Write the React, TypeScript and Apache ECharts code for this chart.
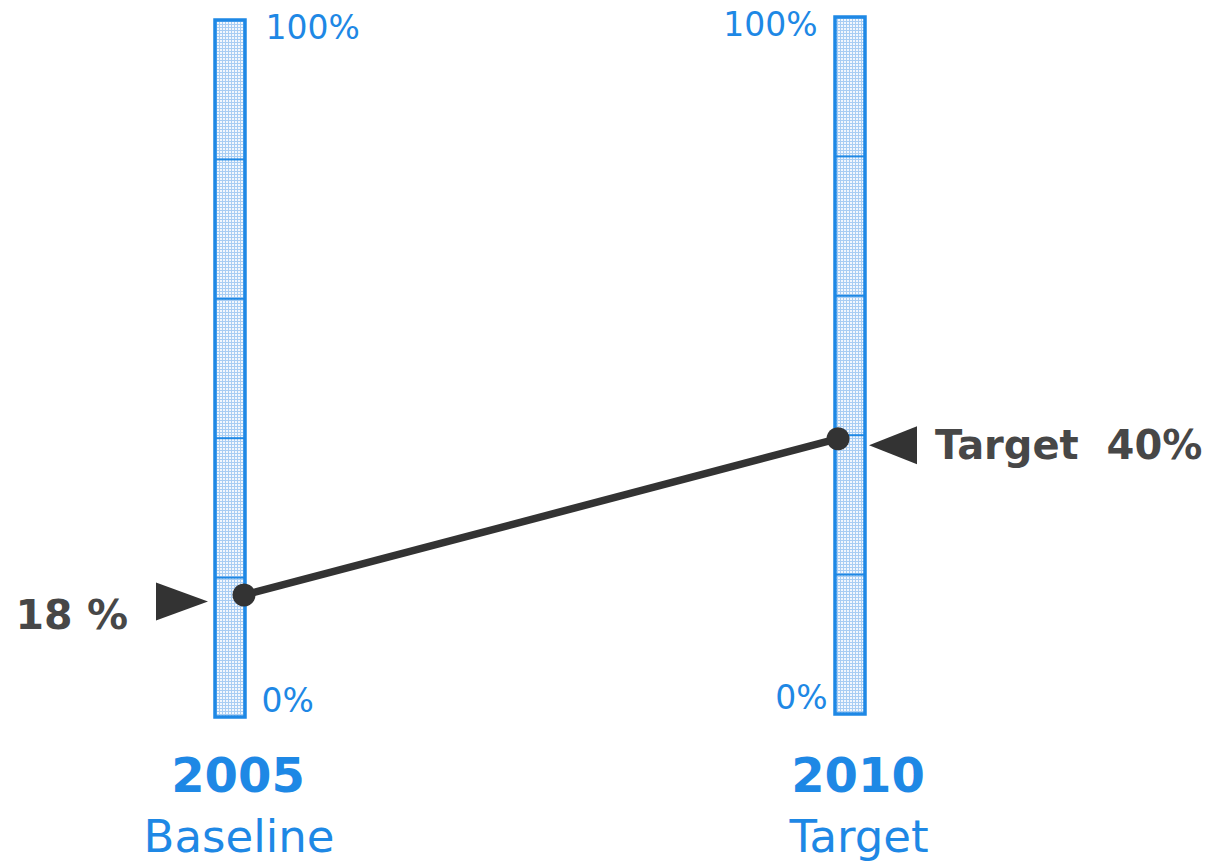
import React, { useEffect, useRef } from "react";
import * as echarts from "echarts";

// ---- data ----
const years = ["2005", "2010"];
const subtitles = ["Baseline", "Target"];
const values = [18, 40];
const valueLabels = ["18 %", "Target  40%"];
const scaleTicks = [20, 40, 60, 80];
const scaleMin = 0;
const scaleMax = 100;
const scaleMinLabel = "0%";
const scaleMaxLabel = "100%";

// ---- style / layout ----
const BLUE = "#1e88e5";
const DARK = "#333333";
const TEXT_DARK = "#474747";
const FONT = '"DejaVu Sans", sans-serif';
const L = {
  barShift: [1.5, -1.5],
  side: [-1, 1], // -1: marker on the left of the bar, 1: on the right
  topGap: [19, 16],
  bottomGap: [15, 6],
  barHalf: 15,
  tipGap: [22, 19],
  arrowLen: [52, 48],
};

function makePattern() {
  const c = document.createElement("canvas");
  c.width = 3;
  c.height = 3;
  const ctx = c.getContext("2d")!;
  ctx.fillStyle = "#f2f7fd";
  ctx.fillRect(0, 0, 3, 3);
  ctx.fillStyle = "#a8cdf3";
  ctx.fillRect(0, 0, 3, 1);
  ctx.fillRect(0, 0, 1, 3);
  return { image: c, repeat: "repeat" };
}

export default function App() {
  const ref = useRef<HTMLDivElement>(null);
  useEffect(() => {
    if (!ref.current) return;
    const chart = echarts.init(ref.current, null, { renderer: "svg" });
    const pattern = makePattern();

    const option: any = {
      animation: false,
      grid: { left: 230, right: 361, top: 18.5, bottom: 151.5 },
      xAxis: { type: "value", min: 0, max: 1, show: false },
      yAxis: { type: "value", min: scaleMin, max: scaleMax, show: false },
      series: [
        {
          type: "custom",
          z: 2,
          data: values.map((v, i) => [i, v]),
          renderItem: (params: any, api: any) => {
            const i = params.dataIndex;
            const x = api.value(0);
            const v = api.value(1);
            const sh = L.barShift[i];
            const side = L.side[i];
            const topP = api.coord([x, scaleMax]);
            const botP = api.coord([x, scaleMin]);
            const valP = api.coord([x, v]);
            const cx = topP[0];
            const top = topP[1] + sh;
            const bot = botP[1] + sh;
            const vy = valP[1] + sh;
            const half = L.barHalf;
            const children: any[] = [];
            children.push({
              type: "rect",
              shape: { x: cx - half, y: top, width: half * 2, height: bot - top },
              style: { fill: pattern, stroke: BLUE, lineWidth: 3.5 },
            });
            scaleTicks.forEach((t) => {
              const ty = api.coord([x, t])[1] + sh;
              children.push({
                type: "line",
                shape: { x1: cx - half, y1: ty, x2: cx + half, y2: ty },
                style: { stroke: BLUE, lineWidth: 2 },
              });
            });
            // scale labels
            const labSide = -side; // labels opposite to marker
            const edge = cx + labSide * (half + 1.5);
            children.push({
              type: "text",
              style: {
                text: scaleMaxLabel,
                x: edge + labSide * L.topGap[i],
                y: top + 7,
                font: `33px ${FONT}`,
                fill: BLUE,
                align: labSide > 0 ? "left" : "right",
                verticalAlign: "middle",
              },
            });
            children.push({
              type: "text",
              style: {
                text: scaleMinLabel,
                x: edge + labSide * L.bottomGap[i],
                y: bot - 17,
                font: `33px ${FONT}`,
                fill: BLUE,
                align: labSide > 0 ? "left" : "right",
                verticalAlign: "middle",
              },
            });
            // year + subtitle
            children.push({
              type: "text",
              style: {
                text: years[i],
                x: cx + 8,
                y: botP[1] + 59.5,
                font: `bold 48px ${FONT}`,
                fill: BLUE,
                align: "center",
                verticalAlign: "middle",
              },
            });
            children.push({
              type: "text",
              style: {
                text: subtitles[i],
                x: cx + 9,
                y: botP[1] + 121,
                font: `45px ${FONT}`,
                fill: BLUE,
                align: "center",
                verticalAlign: "middle",
              },
            });
            // arrow marker
            const tipX = cx + side * L.tipGap[i];
            const ay = vy + 10;
            const baseX = tipX + side * L.arrowLen[i];
            children.push({
              type: "polygon",
              shape: {
                points: [
                  [tipX, ay],
                  [baseX, ay - 19],
                  [baseX, ay + 19],
                ],
              },
              style: { fill: DARK },
            });
            children.push({
              type: "text",
              style: {
                text: valueLabels[i],
                x: side < 0 ? cx - 102 : cx + 85,
                y: side < 0 ? vy + 23 : vy + 10,
                font: `bold ${side < 0 ? 41 : 40}px ${FONT}`,
                fill: TEXT_DARK,
                align: side < 0 ? "right" : "left",
                verticalAlign: "middle",
              },
            });
            return { type: "group", children };
          },
        },
        {
          type: "custom",
          z: 3,
          data: [[0, values[0], 1, values[1]]],
          renderItem: (params: any, api: any) => {
            const a = api.coord([api.value(0), api.value(1)]);
            const b = api.coord([api.value(2), api.value(3)]);
            const p1 = [a[0] + 14, a[1] + L.barShift[0] + 3.5];
            const p2 = [b[0] - 12, b[1] + L.barShift[1] + 3.5];
            return {
              type: "group",
              children: [
                {
                  type: "line",
                  shape: { x1: p1[0], y1: p1[1], x2: p2[0], y2: p2[1] },
                  style: { stroke: DARK, lineWidth: 7.5 },
                },
                { type: "circle", shape: { cx: p1[0], cy: p1[1], r: 11.5 }, style: { fill: DARK } },
                { type: "circle", shape: { cx: p2[0], cy: p2[1], r: 11.5 }, style: { fill: DARK } },
              ],
            };
          },
        },
      ],
    };
    chart.setOption(option);
    return () => chart.dispose();
  }, []);
  return (
    <div
      ref={ref}
      style={{ position: "absolute", left: 0, top: 0, width: 1211, height: 867, background: "#ffffff" }}
    />
  );
}
